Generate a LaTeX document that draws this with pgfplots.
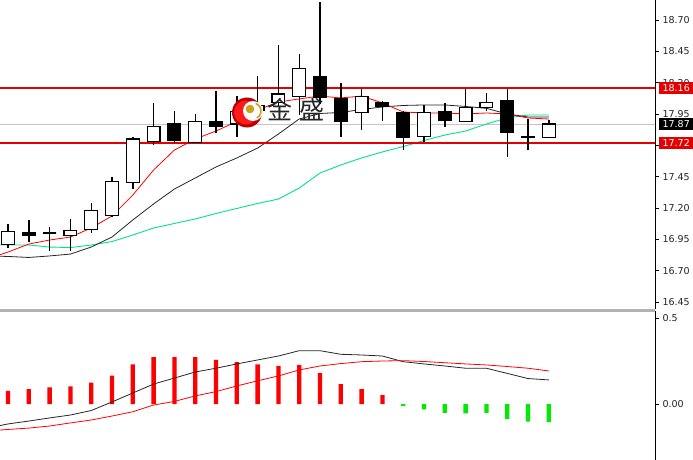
\documentclass[border=0pt]{standalone}
\usepackage{pgfplots}
\pgfplotsset{compat=1.18}
\usepackage{pgfplotstable}
\usepackage{fontspec}
\setmainfont{DejaVu Sans}
\newfontfamily\cjk{Noto Sans CJK SC}

\definecolor{maGreen}{RGB}{0,225,140}
\definecolor{histGreen}{RGB}{0,235,0}
\definecolor{lvlRed}{RGB}{228,0,0}
\definecolor{lblGray}{RGB}{35,35,35}
\definecolor{logoGold}{RGB}{205,160,30}

% daily candles: open high low close
\pgfplotstableread{
i o h l c
0 16.91 17.07 16.88 17.01
1 17.00 17.10 16.93 16.98
2 17.00 17.05 16.86 17.00
3 16.98 17.11 16.86 17.02
4 17.03 17.24 17.00 17.18
5 17.14 17.45 17.13 17.41
6 17.40 17.77 17.35 17.75
7 17.73 18.04 17.70 17.85
8 17.87 17.97 17.72 17.74
9 17.72 17.95 17.72 17.89
10 17.89 18.13 17.80 17.85
11 17.87 18.09 17.77 17.97
12 17.98 18.25 17.94 18.02
13 18.04 18.50 18.01 18.11
14 18.09 18.43 17.94 18.31
15 18.25 18.84 18.03 18.08
16 18.07 18.20 17.77 17.89
17 17.96 18.15 17.82 18.09
18 18.04 18.05 17.89 18.01
19 17.96 17.97 17.66 17.76
20 17.77 18.02 17.73 17.96
21 17.97 18.04 17.85 17.90
22 17.89 18.15 17.89 18.00
23 18.00 18.12 17.97 18.04
24 18.06 18.15 17.61 17.80
25 17.76 17.91 17.66 17.77
26 17.76 17.90 17.76 17.87
}\candles

% moving averages: red fast, black mid, green slow
\pgfplotstableread{
i r k g
-1 16.793 16.817 16.904
0 16.848 16.813 16.904
1 16.912 16.805 16.904
2 16.944 16.817 16.888
3 16.968 16.832 16.884
4 17.040 16.888 16.904
5 17.136 16.968 16.932
6 17.303 17.104 16.984
7 17.503 17.232 17.040
8 17.662 17.351 17.076
9 17.750 17.439 17.112
10 17.814 17.527 17.156
11 17.890 17.599 17.196
12 17.982 17.678 17.236
13 18.046 17.790 17.271
14 18.070 17.910 17.359
15 18.093 17.954 17.479
16 18.078 17.962 17.543
17 18.093 17.986 17.599
18 18.038 18.006 17.647
19 17.966 18.018 17.690
20 17.958 18.022 17.738
21 17.958 18.022 17.782
22 17.950 18.010 17.814
23 17.958 17.995 17.870
24 17.950 17.950 17.918
25 17.918 17.926 17.942
26 17.910 17.926 17.942
}\mas

% lower panel lines
\pgfplotstableread{
i main sig
-1 -0.140 -0.157
0 -0.116 -0.148
1 -0.099 -0.140
2 -0.081 -0.128
3 -0.064 -0.110
4 -0.038 -0.093
5 0.012 -0.070
6 0.064 -0.045
7 0.116 -0.006
8 0.151 0.015
9 0.186 0.047
10 0.208 0.072
11 0.233 0.105
12 0.256 0.135
13 0.279 0.163
14 0.310 0.198
15 0.310 0.221
16 0.289 0.235
17 0.285 0.246
18 0.279 0.250
19 0.246 0.252
20 0.233 0.247
21 0.221 0.240
22 0.208 0.233
23 0.208 0.227
24 0.178 0.218
25 0.148 0.208
26 0.140 0.192
}\macd

\pgfplotsset{
  panel/.style={
    scale only axis, width=655pt,
    xmin=-0.3846, xmax=31.106,
    axis x line=none, axis y line*=right,
    y axis line style={-, black, line width=0.9pt},
    tick align=outside, major tick length=4pt,
    ytick style={black, line width=0.8pt},
    yticklabel style={font=\fontsize{9.5}{10}\selectfont, text=lblGray,
      /pgf/number format/.cd, fixed, fixed zerofill, precision=2, assume math mode=true},
  },
}

\begin{document}
\begin{tikzpicture}
\begin{axis}[panel,
  at={(0pt,0pt)}, anchor=north west, height=309pt,
  ymin=16.3936, ymax=18.8596,
  ytick={16.45,16.70,16.95,17.20,17.45,17.70,17.95,18.20,18.45,18.70},
  extra y ticks={18.16,17.72,17.87},
  extra y tick labels={
    {\setlength\fboxsep{2.5pt}\colorbox{lvlRed}{\makebox[34pt][l]{\textcolor{white}{\,18.16}}}},
    {\setlength\fboxsep{2.5pt}\colorbox{lvlRed}{\makebox[34pt][l]{\textcolor{white}{\,17.72}}}},
    {\setlength\fboxsep{2.5pt}\colorbox{black}{\makebox[34pt][l]{\textcolor{white}{\,17.87}}}}},
  extra y tick style={major tick length=0pt},
]
\addplot[gray!45, line width=0.8pt] coordinates {(-1,17.87) (32,17.87)};

\addplot[scatter, only marks, mark=text, text mark={},
  visualization depends on={(\thisrow{o}-\thisrow{c})*125.3 \as \dyo},
  visualization depends on={(\thisrow{h}-\thisrow{c})*125.3 \as \dyh},
  visualization depends on={(\thisrow{l}-\thisrow{c})*125.3 \as \dyl},
  scatter/@pre marker code/.code={%
    \pgfmathsetmacro\yo{\dyo}%
    \pgfmathsetmacro\yh{\dyh}%
    \pgfmathsetmacro\yl{\dyl}%
    \draw[black, line width=1.4pt] (0pt,\yl pt) -- (0pt,\yh pt);%
    \ifdim\yo pt>0pt \def\bodyfill{black}\else\def\bodyfill{white}\fi
    \filldraw[draw=black, fill=\bodyfill, line width=1.2pt] (-6.4pt,0pt) rectangle (6.4pt,\yo pt);%
  },
  scatter/@post marker code/.code={},
] table[x=i, y=c] {\candles};

\addplot[maGreen, line width=0.9pt] table[x=i, y=g] {\mas};
\addplot[black!85, line width=0.8pt] table[x=i, y=k] {\mas};
\addplot[red, line width=0.8pt] table[x=i, y=r] {\mas};

\addplot[lvlRed, line width=2pt] coordinates {(-1,18.16) (32,18.16)};
\addplot[lvlRed, line width=2pt] coordinates {(-1,17.72) (32,17.72)};
\end{axis}

\begin{axis}[panel,
  at={(0pt,-311pt)}, anchor=north west, height=149pt,
  ymin=-0.3256, ymax=0.5407,
  ytick={0,0.5}, yticklabels={0.00,0.5},
]
\addplot[ybar, bar width=4.3pt, bar shift=0pt, fill=red, draw=none] coordinates {
(0,0.077) (1,0.087) (2,0.097) (3,0.103) (4,0.124) (5,0.165) (6,0.231)
(7,0.273) (8,0.273) (9,0.273) (10,0.256) (11,0.244) (12,0.231) (13,0.221)
(14,0.227) (15,0.180) (16,0.115) (17,0.087) (18,0.052)};
\addplot[ybar, bar width=4.3pt, bar shift=0pt, fill=histGreen, draw=none] coordinates {
(19,-0.012) (20,-0.031) (21,-0.051) (22,-0.054) (23,-0.051) (24,-0.087)
(25,-0.103) (26,-0.106)};
\addplot[black!85, line width=0.8pt] table[x=i, y=main] {\macd};
\addplot[red, line width=0.8pt] table[x=i, y=sig] {\macd};
\end{axis}

% panel separator
\fill[gray!60] (0pt,-309pt) rectangle (655pt,-311.5pt);

% watermark logo
\fill[red!75!black] (247pt,-112.5pt) circle (15pt);
\fill[red!90] (246pt,-112.5pt) circle (12pt);
\fill[white] (253pt,-111pt) circle (10pt);
\draw[logoGold, line width=1.6pt] (253pt,-111pt) ++(-60:8pt) arc (-60:70:8pt);
\fill[logoGold] (250pt,-109pt) circle (4.3pt);
\node[font=\cjk\fontsize{25}{25}\selectfont, text=black!85, inner sep=0pt] at (296pt,-110pt) {金\kern7pt 盛};

\pgfresetboundingbox
\path (0pt,0pt) rectangle (693pt,-460pt);
\end{tikzpicture}
\end{document}
